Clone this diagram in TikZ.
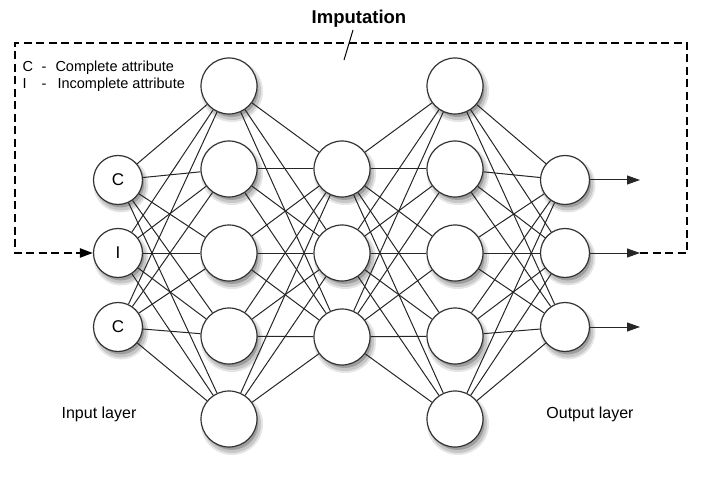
\documentclass[tikz,border=0pt]{standalone}
\usepackage{fontspec}
\setmainfont{Liberation Sans}
\usetikzlibrary{arrows.meta,backgrounds}
\tikzset{
  unit/.style={circle,draw=black!80,line width=1.2pt,fill=white,inner sep=0pt},
  inunit/.style={unit,minimum size=49pt,font=\fontsize{17}{19}\selectfont},
  hidunit/.style={unit,minimum size=56pt},
  link/.style={black!85,line width=1pt},
  imputeline/.style={line width=2.4pt,dash pattern=on 8pt off 4.5pt},
  txt/.style={font=\fontsize{16}{18}\selectfont}
}
% soft shadow below a unit of radius #2
\newcommand{\unitshadow}[2]{%
  \fill[black!10] ([xshift=3pt,yshift=-5pt]#1.center) circle (#2+3);
  \fill[black!22] ([xshift=3pt,yshift=-5pt]#1.center) circle (#2+1);
  \fill[black!38] ([xshift=2.5pt,yshift=-4pt]#1.center) circle (#2-1);
}
\begin{document}
\begin{tikzpicture}[x=1pt,y=-1pt,>={Triangle[length=13pt,width=9pt]}]
  \useasboundingbox (0,0) rectangle (719,486);
  %title
  \node[font=\bfseries\fontsize{18.5}{20}\selectfont] (title) at (359,19) {Imputation};
  %legend
  \node[txt,anchor=west,font=\fontsize{14.5}{16}\selectfont] (keyC) at (19,68)
    {\makebox[19pt][l]{C}\makebox[14pt][l]{-}Complete attribute};
  \node[txt,anchor=west,font=\fontsize{14.5}{16}\selectfont] (keyI) at (19,85)
    {\makebox[19pt][l]{I}\makebox[16pt][l]{-}Incomplete attribute};
  %input layer
  \foreach \n/\y/\t in {1/180/C,2/253/I,3/327/C}
    \node[inunit] (in\n) at (118,\y) {\t};
  %hidden layers
  \foreach \n/\y in {1/86,2/169,3/253,4/336,5/419}{
    \node[hidunit] (ha\n) at (229,\y) {};
    \node[hidunit] (hc\n) at (455,\y) {};
  }
  \foreach \n/\y in {1/169,2/253,3/337}
    \node[hidunit] (hb\n) at (342,\y) {};
  %output layer
  \foreach \n/\y in {1/180,2/253,3/327}
    \node[inunit] (out\n) at (565,\y) {};
  \begin{scope}[on background layer]
    %shadows
    \foreach \m in {in1,in2,in3,out1,out2,out3}{
      \unitshadow{\m}{24.5}
    }
    \foreach \m in {ha1,ha2,ha3,ha4,ha5,hb1,hb2,hb3,hc1,hc2,hc3,hc4,hc5}{
      \unitshadow{\m}{28}
    }
    %links
    \foreach \a in {1,2,3}{
      \foreach \b in {1,...,5}{
        \draw[link] (in\a) -- (ha\b);
        \draw[link] (ha\b) -- (hb\a);
        \draw[link] (hb\a) -- (hc\b);
        \draw[link] (hc\b) -- (out\a);
      }
    }
  \end{scope}
  %outputs
  \foreach \n/\y in {1/180,2/253,3/327}{
    \coordinate (o\n) at (640,\y);
    \draw[link,->] (out\n) -- (o\n);
  }
  %imputation loop
  \coordinate (fb1) at (687,253);
  \coordinate (fb2) at (687,43);
  \coordinate (fb3) at (15,43);
  \coordinate (fb4) at (15,253);
  \draw[imputeline,->] (o2) -- (fb1) -- (fb2) -- (fb3) -- (fb4) -- (in2);
  \coordinate (tickA) at (353,30);
  \coordinate (tickB) at (344,60);
  \draw[line width=1pt] (tickA) -- (tickB);
  %layer labels
  \node[txt] (inlabel) at (99,414) {Input layer};
  \node[txt] (outlabel) at (590,414) {Output layer};
\end{tikzpicture}
\end{document}
